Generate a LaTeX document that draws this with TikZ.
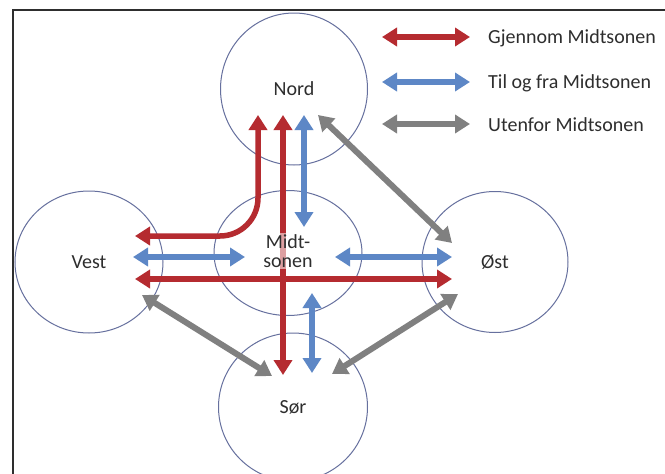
\documentclass[tikz,border=0pt]{standalone}
\usepackage{fontspec}
\setmainfont{Carlito}
\usetikzlibrary{arrows.meta,shapes.geometric}
\definecolor{cred}{HTML}{B52B30}
\definecolor{cblue}{HTML}{5D87C6}
\definecolor{cgrey}{HTML}{808080}
\definecolor{ccirc}{HTML}{66709E}
\definecolor{ctext}{HTML}{2E2E2E}
\begin{document}
\begin{tikzpicture}[x=1pt,y=-1pt,
  zone/.style={draw=ccirc,line width=1pt,ellipse,inner sep=0pt,text=ctext,
    font=\fontsize{20}{22}\selectfont},
  flow/.style={line width=5.5pt,{Triangle[length=15pt,width=18pt]}-{Triangle[length=15pt,width=18pt]}},
  redflow/.style={flow,draw=cred},
  blueflow/.style={flow,draw=cblue},
  greyflow/.style={flow,draw=cgrey,line width=6pt},
  legtext/.style={anchor=west,text=ctext,font=\fontsize{20}{22}\selectfont,inner sep=0pt}]
\useasboundingbox (0,0) rectangle (665,474);
\fill[white] (0,0) rectangle (665,474);
\draw[line width=1.5pt,ctext] (13,480) -- (13,10) -- (670,10);

% zones
\node[zone,minimum width=147pt,minimum height=152pt] (nord) at (294,89) {Nord};
\node[zone,minimum width=148pt,minimum height=142pt] (vest) at (89,262) {Vest};
\node[zone,minimum width=146pt,minimum height=141pt] (ost) at (495,262) {Øst};
\node[zone,minimum width=149pt,minimum height=148pt] (sor) at (293,407) {Sør};
\node[zone,minimum width=148pt,minimum height=125pt] (midt) at (288,253) {};

% arrow end points
\coordinate (nA) at (258,115);
\coordinate (nB) at (283,115);
\coordinate (nC) at (304,115);
\coordinate (nD) at (318,115);
\coordinate (vA) at (135,236);
\coordinate (vB) at (133,257);
\coordinate (vC) at (135,279);
\coordinate (vD) at (142,295);
\coordinate (oA) at (452,243);
\coordinate (oB) at (452,257);
\coordinate (oC) at (452,279);
\coordinate (oD) at (458,294);
\coordinate (sA) at (272,376);
\coordinate (sB) at (283,375);
\coordinate (sC) at (312,373);
\coordinate (sD) at (332,374);
\coordinate (mN) at (304,227);
\coordinate (mW) at (245,257);
\coordinate (mE) at (335,257);
\coordinate (mS) at (312,293);

% through Midtsonen
\draw[redflow,rounded corners=38pt] (nA) |- (vA);
\draw[redflow] (nB) -- (sB);
\draw[redflow] (vC) -- (oC);
% to and from Midtsonen
\draw[blueflow] (nC) -- (mN);
\draw[blueflow] (vB) -- (mW);
\draw[blueflow] (mE) -- (oB);
\draw[blueflow] (mS) -- (sC);
% outside Midtsonen
\draw[greyflow] (nD) -- (oA);
\draw[greyflow] (vD) -- (sA);
\draw[greyflow] (oD) -- (sD);

% Midtsonen label
\node[fill=white,fill opacity=0.55,text opacity=1,text=ctext,align=center,inner sep=1pt,
  font=\fontsize{20}{19.5}\selectfont] (midtl) at (288,251) {Midt-\\sonen};

% legend
\coordinate (l1a) at (382,37);
\coordinate (l1b) at (470,37);
\coordinate (l2a) at (382,82);
\coordinate (l2b) at (470,82);
\coordinate (l3a) at (382,124);
\coordinate (l3b) at (470,124);
\draw[redflow] (l1a) -- (l1b);
\draw[blueflow] (l2a) -- (l2b);
\draw[greyflow] (l3a) -- (l3b);
\node[legtext] (t1) at (488,38) {Gjennom Midtsonen};
\node[legtext] (t2) at (488,83) {Til og fra Midtsonen};
\node[legtext] (t3) at (488,125) {Utenfor Midtsonen};
\end{tikzpicture}
\end{document}
